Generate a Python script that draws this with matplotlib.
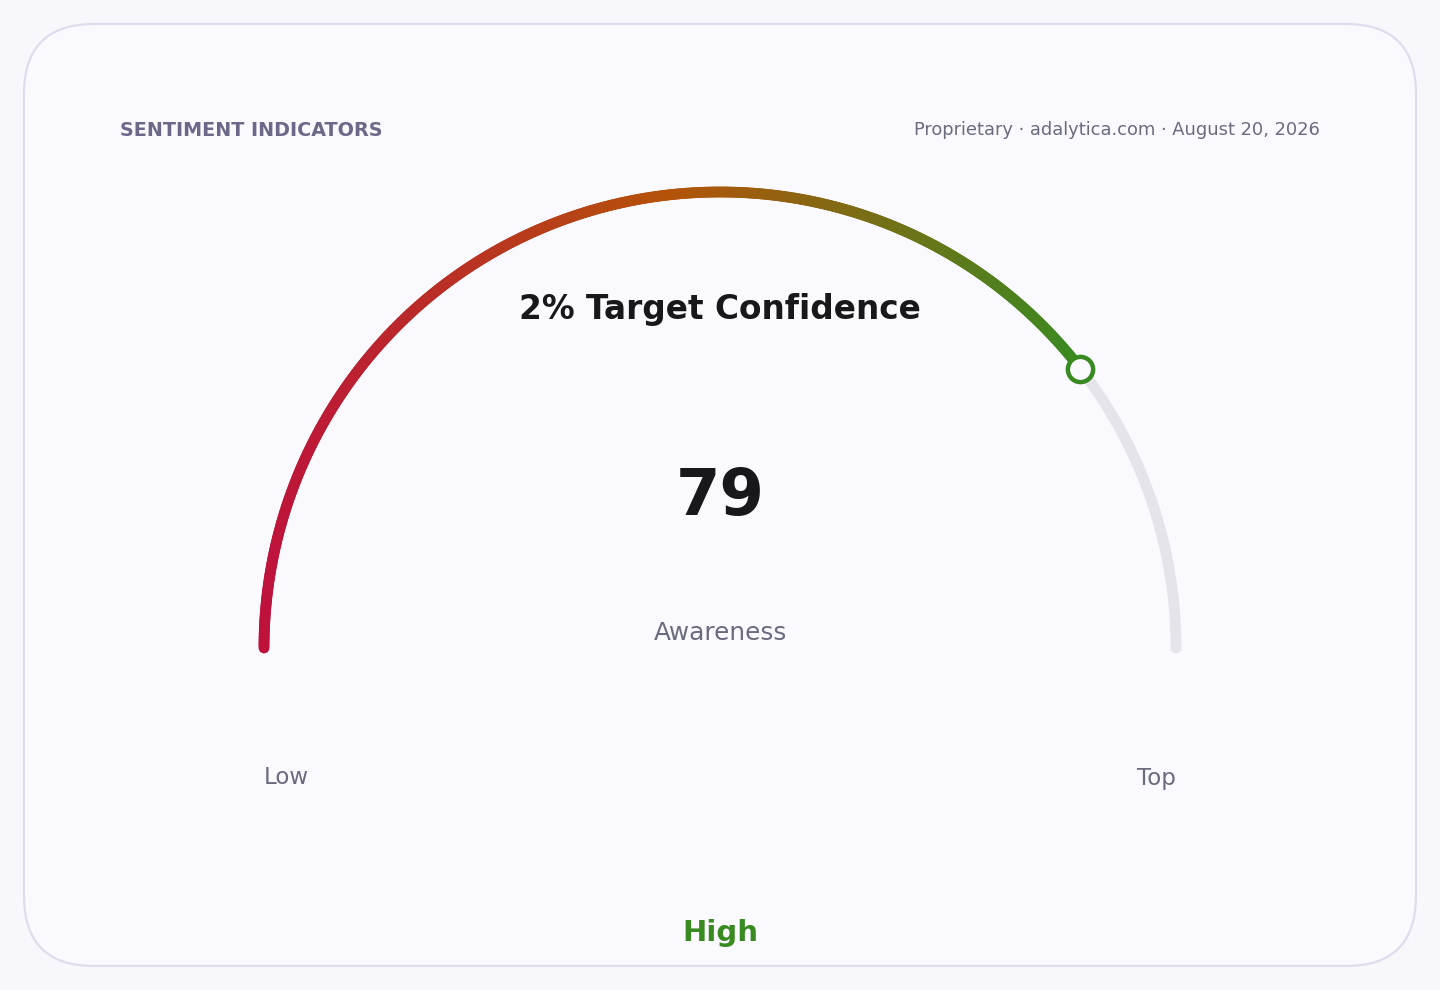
import numpy as np
import matplotlib.pyplot as plt
from matplotlib.collections import LineCollection
from matplotlib.patches import FancyBboxPatch
from matplotlib.colors import LinearSegmentedColormap

# data
value = 79
vmin, vmax = 0, 100
title = "2% Target Confidence"
metric = "Awareness"
low_label, high_label = "Low", "Top"
status = "High"
header = "SENTIMENT INDICATORS"
source = "Proprietary · adalytica.com · August 20, 2026"
grad_colors = ["#be123c", "#b45309", "#3a8a22"]

fig = plt.figure(figsize=(14.4, 9.9), dpi=100)
fig.patch.set_facecolor("#f8f8fc")
ax = fig.add_axes([0, 0, 1, 1])
ax.set_xlim(0, 1440)
ax.set_ylim(990, 0)
ax.axis("off")

# card
card = FancyBboxPatch((24, 24), 1392, 942, boxstyle="round,pad=0,rounding_size=70",
                      fc="#f9f9fe", ec="#dedded", lw=1.6)
ax.add_patch(card)

cx, cy, r = 720, 648, 456

def pt(v):
    a = np.pi * (1 - (v - vmin) / (vmax - vmin))
    return cx + r * np.cos(a), cy - r * np.sin(a)

# grey track for the rest
vs = np.linspace(value, vmax, 100)
xs, ys = pt(vs)
ax.plot(xs, ys, color="#e4e4ea", lw=7.8, solid_capstyle="round", zorder=2)

# gradient filled arc
vs = np.linspace(vmin, value, 400)
xs, ys = pt(vs)
pts = np.column_stack([xs, ys]).reshape(-1, 1, 2)
segs = np.concatenate([pts[:-1], pts[1:]], axis=1)
cmap = LinearSegmentedColormap.from_list("g", grad_colors)
t = (xs[:-1] - xs.min()) / (xs.max() - xs.min())
lc = LineCollection(segs, colors=cmap(t), linewidths=7.8, capstyle="round", zorder=3)
ax.add_collection(lc)

mx, my = pt(value)
ax.scatter([mx], [my], s=330, facecolor="#f9f9fe", edgecolor=grad_colors[-1], linewidths=3.2, zorder=4)

ax.text(120, 130, header, fontsize=13.8, fontweight="bold", color="#6b6888", ha="left", va="center")
ax.text(1320, 130, source, fontsize=12.9, color="#6b6b80", ha="right", va="center")
ax.text(720, 309, title, fontsize=23.6, fontweight="bold", color="#18181b", ha="center", va="center")
ax.text(720, 497, str(value), fontsize=46, fontweight="bold", color="#18181b", ha="center", va="center")
ax.text(720, 633, metric, fontsize=17.8, color="#6b6b80", ha="center", va="center")
ax.text(264, 778, low_label, fontsize=16.5, color="#6b6b80", ha="left", va="center")
ax.text(1176, 778, high_label, fontsize=16.5, color="#6b6b80", ha="right", va="center")
ax.text(720, 933, status, fontsize=21, fontweight="bold", color=grad_colors[-1], ha="center", va="center")

fig.savefig("out.png", dpi=100, facecolor=fig.get_facecolor())
